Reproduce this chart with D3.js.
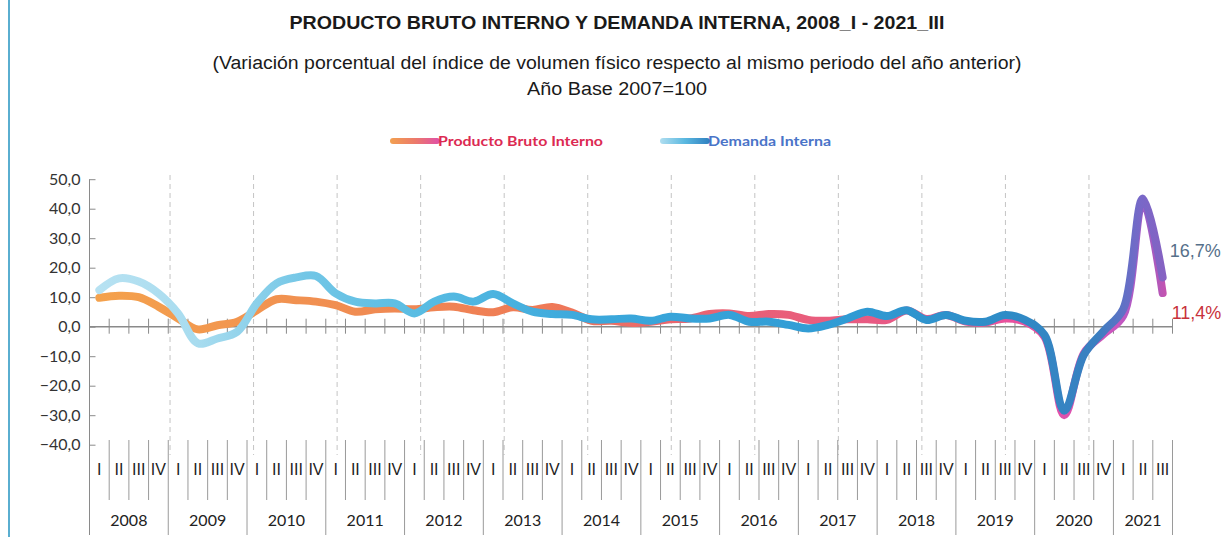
<!DOCTYPE html>
<html>
<head>
<meta charset="utf-8">
<script src="https://cdn.jsdelivr.net/npm/d3@7"></script>
<style>
  body { margin: 0; background: #fff; }
  text { font-family: Lato, "Open Sans", sans-serif; }
</style>
</head>
<body>
<div id="chart"></div>
<script>
var years = ['2008', '2009', '2010', '2011', '2012', '2013', '2014', '2015', '2016', '2017', '2018', '2019', '2020', '2021'];
var quarters = ['I', 'II', 'III', 'IV'];

// Producto Bruto Interno, var. % (2008_I ... 2021_III)
var pbi = [
    9.8, 10.5, 10.0, 6.8,
    2.8, -0.9, 0.5, 1.7,
    5.6, 9.3, 9.0, 8.5,
    7.3, 5.1, 5.9, 6.2,
    5.9, 6.6, 6.8, 5.6,
    4.9, 6.6, 5.7, 6.7,
    4.8, 2.0, 2.0, 1.3,
    1.7, 2.5, 2.8, 4.3,
    4.5, 3.6, 4.3, 4.0,
    2.3, 2.0, 2.5, 2.5,
    2.3, 5.5, 2.6, 4.0,
    1.7, 1.4, 2.8, 1.7,
    -3.4, -30.0, -9.0, -2.5,
    3.8, 42.5, 11.4
];

// Demanda Interna, var. %
var demanda = [
    12.4, 16.4, 15.3, 11.3,
    4.5, -5.6, -4.0, -1.7,
    7.9, 14.7, 16.7, 17.2,
    11.3, 8.5, 7.9, 7.9,
    4.5, 8.5, 10.2, 8.5,
    11.1, 7.9, 5.1, 4.3,
    4.0, 2.5, 2.5, 2.8,
    2.0, 3.4, 2.8, 2.8,
    4.0, 1.7, 1.7, 0.6,
    -0.6, 0.6, 2.8, 5.1,
    3.6, 5.6, 2.3, 4.0,
    2.0, 1.7, 4.0, 2.3,
    -2.8, -28.5, -9.5, -1.5,
    6.0, 43.5, 16.7
];

var yTicks = [-40, -30, -20, -10, 0, 10, 20, 30, 40, 50];
var seriesNames = ['Producto Bruto Interno', 'Demanda Interna'];
var lastLabels = ['11,4%', '16,7%'];

var width = 1225, height = 537;
var numFormat = d3.format('.1f');
var narrow = '"Liberation Sans Narrow", "Liberation Sans", Arial, sans-serif';

var periods = [];
years.forEach(function(yr) {
    quarters.forEach(function(q) { periods.push(yr + '_' + q); });
});
periods = periods.slice(0, pbi.length);

var svg = d3.select('#chart')
    .append('svg')
    .attr('width', width)
    .attr('height', height);

var x = d3.scaleBand().domain(periods).range([89.5, 1172.5]).padding(0);
var y = d3.scaleLinear().domain([-40, 50]).range([444.7, 179.2]);
var x0 = x.range()[0], x1 = x.range()[1];
var cx = function(i) { return x(periods[i]) + x.bandwidth() / 2; };

// page border on the left
svg.append('line')
    .attr('x1', 9).attr('x2', 9).attr('y1', 0).attr('y2', height)
    .attr('stroke', '#5aaed0').attr('stroke-width', 2);

// titles
var titles = [
    {t: 'PRODUCTO BRUTO INTERNO Y DEMANDA INTERNA, 2008_I - 2021_III', y: 29, len: 655, w: 'bold', s: 18},
    {t: '(Variación porcentual del índice de volumen físico respecto al mismo periodo del año anterior)', y: 69, len: 809, w: 'normal', s: 18},
    {t: 'Año Base 2007=100', y: 95, len: 180, w: 'normal', s: 18}
];
titles.forEach(function(d) {
    svg.append('text')
        .attr('x', 617).attr('y', d.y)
        .attr('text-anchor', 'middle')
        .attr('textLength', d.len)
        .attr('lengthAdjust', 'spacingAndGlyphs')
        .style('font-family', narrow)
        .style('font-weight', d.w)
        .style('font-size', d.s + 'px')
        .attr('fill', '#1a1a1a')
        .text(d.t);
});

// gradients
var defs = svg.append('defs');
function addGradient(id, stops, ax1, ax2) {
    var g = defs.append('linearGradient')
        .attr('id', id)
        .attr('gradientUnits', 'userSpaceOnUse')
        .attr('x1', ax1).attr('x2', ax2).attr('y1', 0).attr('y2', 0);
    stops.forEach(function(s) {
        g.append('stop').attr('offset', s[0]).attr('stop-color', s[1]);
    });
}
addGradient('gPbi', [
    [0, '#f4a24c'], [0.25, '#f08c52'], [0.42, '#ef7a56'], [0.55, '#ea6470'],
    [0.75, '#e85886'], [0.88, '#e84fa4'], [0.95, '#c856c0'], [0.975, '#9a5ec8'], [1, '#d250a8']
], x0, x1);
addGradient('gDem', [
    [0, '#b8e2f2'], [0.1, '#a8dcef'], [0.2, '#72c6e6'], [0.3, '#5abde3'],
    [0.45, '#3ca9dc'], [0.7, '#309bd4'], [0.85, '#2e8bc6'], [0.93, '#3a7fc0'], [0.97, '#7868c8'], [1, '#8a60c0']
], x0, x1);
addGradient('gLegPbi', [[0, '#f2a050'], [0.5, '#ec7a6a'], [1, '#e04fa8']], 390, 440);
addGradient('gLegDem', [[0, '#b0def0'], [0.5, '#5ab8e0'], [1, '#2f7fc0']], 660, 710);

// dashed vertical grid
var gridStep = (x1 - x0 + 3) / 13;
svg.append('g').selectAll('line')
    .data(d3.range(1, 13))
    .join('line')
    .attr('x1', function(k) { return x0 - 3 + k * gridStep; })
    .attr('x2', function(k) { return x0 - 3 + k * gridStep; })
    .attr('y1', 175).attr('y2', 455)
    .attr('stroke', '#c4c4c4').attr('stroke-width', 1)
    .attr('stroke-dasharray', '5,4');

// y axis
var yAxis = svg.append('g')
    .attr('transform', 'translate(' + x0 + ',0)')
    .call(d3.axisLeft(y).tickValues(yTicks).tickSize(6)
        .tickFormat(function(d) { return numFormat(d).replace('.', ','); }));
yAxis.select('.domain').remove();
yAxis.selectAll('.tick line').attr('x2', 6).attr('stroke', '#8a8a8a');
yAxis.selectAll('.tick text')
    .attr('x', -9)
    .style('font-size', '16px')
    .attr('fill', '#333');
svg.append('line')
    .attr('x1', x0).attr('x2', x0).attr('y1', y(50)).attr('y2', 535)
    .attr('stroke', '#8a8a8a');

// zero line with quarter ticks
svg.append('line')
    .attr('x1', x0).attr('x2', x1).attr('y1', y(0)).attr('y2', y(0))
    .attr('stroke', '#8a8a8a').attr('stroke-width', 1.5);
svg.append('g').selectAll('line')
    .data(periods)
    .join('line')
    .attr('x1', function(d) { return x(d) + x.bandwidth(); })
    .attr('x2', function(d) { return x(d) + x.bandwidth(); })
    .attr('y1', y(0) - 8).attr('y2', y(0) + 7)
    .attr('stroke', '#8a8a8a');

// category labels (quarters + years)
var catAxis = svg.append('g');
catAxis.selectAll('line.q')
    .data(periods)
    .join('line')
    .attr('class', 'q')
    .attr('x1', function(d) { return x(d) + x.bandwidth(); })
    .attr('x2', function(d) { return x(d) + x.bandwidth(); })
    .attr('y1', 440)
    .attr('y2', function(d) { return (/_IV$/.test(d) || d === periods[periods.length - 1]) ? 535 : 500; })
    .attr('stroke', '#9a9a9a');
catAxis.selectAll('text.q')
    .data(periods)
    .join('text')
    .attr('class', 'q')
    .attr('x', function(d) { return x(d) + x.bandwidth() / 2; })
    .attr('y', 475)
    .attr('text-anchor', 'middle')
    .style('font-family', narrow)
    .style('font-size', '16px')
    .attr('fill', '#222')
    .text(function(d) { return d.split('_')[1]; });
catAxis.selectAll('text.yr')
    .data(years)
    .join('text')
    .attr('class', 'yr')
    .attr('x', function(yr) {
        var ps = periods.filter(function(p) { return p.indexOf(yr) === 0; });
        return (x(ps[0]) + x(ps[ps.length - 1]) + x.bandwidth()) / 2;
    })
    .attr('y', 526)
    .attr('text-anchor', 'middle')
    .style('font-size', '16px')
    .attr('fill', '#222')
    .text(function(d) { return d; });

// lines
var line = d3.line()
    .x(function(d, i) { return cx(i); })
    .y(function(d) { return y(d); })
    .curve(d3.curveCatmullRom.alpha(0.5));

svg.append('path')
    .datum(pbi)
    .attr('d', line)
    .attr('fill', 'none')
    .attr('stroke', 'url(#gPbi)')
    .attr('stroke-width', 8)
    .attr('stroke-linecap', 'round')
    .attr('stroke-linejoin', 'round');

svg.append('path')
    .datum(demanda)
    .attr('d', line)
    .attr('fill', 'none')
    .attr('stroke', 'url(#gDem)')
    .attr('stroke-width', 8)
    .attr('stroke-linecap', 'round')
    .attr('stroke-linejoin', 'round');

// end labels
var last = pbi.length - 1;
svg.append('text')
    .attr('x', cx(last) + 9).attr('y', y(pbi[last]) + 26)
    .style('font-family', narrow)
    .style('font-size', '18px')
    .attr('fill', '#c8323c')
    .text(lastLabels[0]);
svg.append('text')
    .attr('x', cx(last) + 7).attr('y', y(demanda[last]) - 20)
    .style('font-family', narrow)
    .style('font-size', '18px')
    .attr('fill', '#56708a')
    .text(lastLabels[1]);

// legend
var legend = [
    {name: seriesNames[0], sx: 390, tx: 438, len: 165, grad: 'gLegPbi', color: '#dc2a52'},
    {name: seriesNames[1], sx: 660, tx: 708, len: 123, grad: 'gLegDem', color: '#4a74c8'}
];
legend.forEach(function(d) {
    svg.append('rect')
        .attr('x', d.sx).attr('y', 138)
        .attr('width', 50).attr('height', 6).attr('rx', 3)
        .attr('fill', 'url(#' + d.grad + ')');
    svg.append('text')
        .attr('x', d.tx).attr('y', 146)
        .attr('textLength', d.len)
        .attr('lengthAdjust', 'spacingAndGlyphs')
        .style('font-size', '14px')
        .style('font-weight', 'bold')
        .attr('fill', d.color)
        .text(d.name);
});
</script>
</body>
</html>
